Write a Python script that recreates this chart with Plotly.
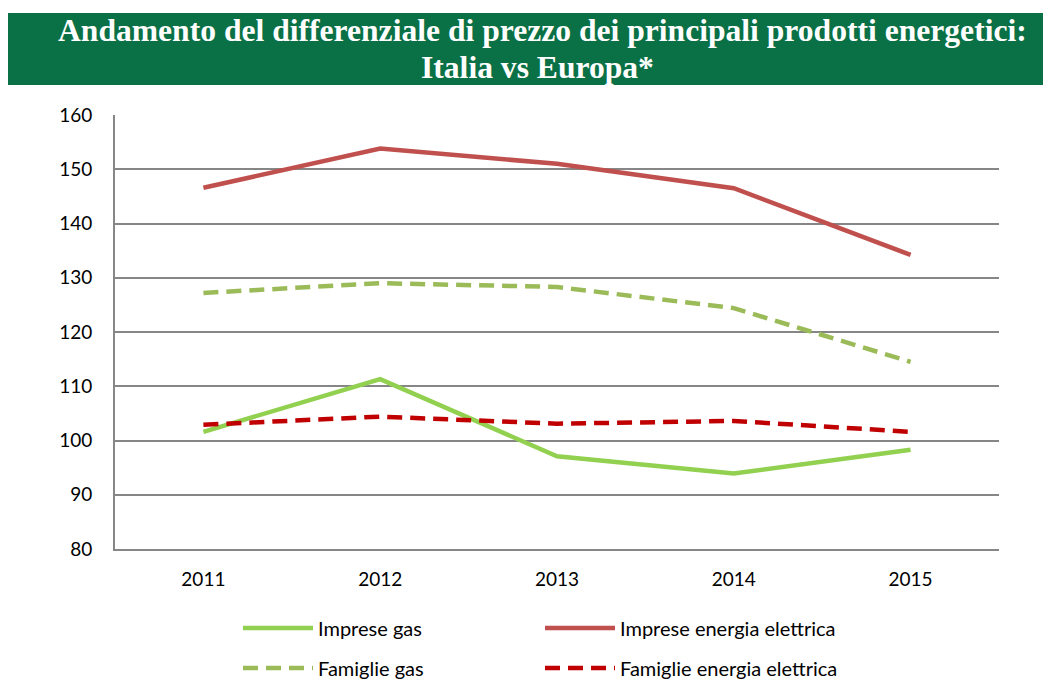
import plotly.graph_objects as go

years = ["2011", "2012", "2013", "2014", "2015"]
imprese_gas = [101.6, 111.3, 97.1, 93.9, 98.3]
imprese_ee = [146.6, 153.8, 151.0, 146.5, 134.2]
famiglie_gas = [127.2, 129.0, 128.3, 124.4, 114.5]
famiglie_ee = [102.9, 104.4, 103.1, 103.6, 101.6]

title_line1 = "Andamento del differenziale di prezzo dei principali prodotti energetici:"
title_line2 = "Italia vs Europa*"

series = [
    ("Imprese gas", imprese_gas, "#92D050", "solid", "legend"),
    ("Imprese energia elettrica", imprese_ee, "#C0504D", "solid", "legend"),
    ("Famiglie gas", famiglie_gas, "#9BBB59", "15px,8px", "legend2"),
    ("Famiglie energia elettrica", famiglie_ee, "#C00000", "15px,8px", "legend2"),
]

fig = go.Figure()
for name, vals, color, dash, leg in series:
    fig.add_trace(go.Scatter(
        x=years, y=vals, name=name, mode="lines", legend=leg,
        line=dict(color=color, width=4.5, dash=dash),
    ))

font_family = "Lato, 'Open Sans', sans-serif"

# plot area in screen pixels: left 115, right 999, top 115, bottom 549
def px(xs):
    return (xs - 115) / 884

def py(ys):
    return (549 - ys) / 434

legend_common = dict(
    orientation="h", xanchor="left", yanchor="middle",
    entrywidth=217, entrywidthmode="pixels", itemwidth=70,
    font=dict(size=20, family=font_family), bgcolor="rgba(0,0,0,0)",
)

fig.update_layout(
    width=1051, height=680,
    margin=dict(l=107, r=60, t=107, b=139, autoexpand=False),
    paper_bgcolor="white", plot_bgcolor="white",
    font=dict(family=font_family, size=19, color="black"),
    showlegend=True,
    legend=dict(x=px(238), y=py(628), **legend_common),
    legend2=dict(x=px(238), y=py(668), **legend_common),
    xaxis=dict(
        type="category", range=[-0.5, 4.5], showgrid=False, ticks="", showline=True,
        linecolor="#868686", linewidth=2,
        tickfont=dict(size=19), ticklabelstandoff=12,
    ),
    yaxis=dict(
        range=[80, 160], dtick=10, showgrid=True, gridcolor="#868686",
        gridwidth=1.5, showline=True, linecolor="#868686", linewidth=2,
        ticks="", zeroline=False, tickfont=dict(size=19), ticklabelstandoff=17,
    ),
    shapes=[dict(
        type="rect", xref="paper", yref="paper",
        x0=px(8), x1=px(1046), y0=py(85), y1=py(13),
        fillcolor="#0A7045", line=dict(width=0), layer="below",
    )],
    annotations=[
        dict(text="<b>" + title_line1 + "</b>", xref="paper", yref="paper",
             x=px(542), y=py(31), xanchor="center", yanchor="middle",
             showarrow=False,
             font=dict(family="'Liberation Serif', serif", size=31.6, color="white")),
        dict(text="<b>" + title_line2 + "</b>", xref="paper", yref="paper",
             x=px(537), y=py(67), xanchor="center", yanchor="middle",
             showarrow=False,
             font=dict(family="'Liberation Serif', serif", size=31.6, color="white")),
    ],
)

fig.write_html("out.html")
